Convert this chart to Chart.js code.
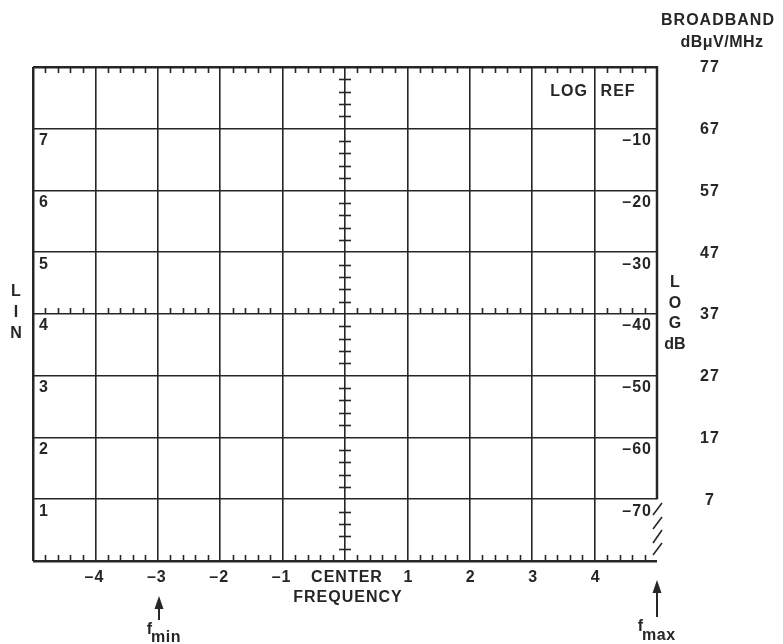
<!DOCTYPE html>
<html>
<head>
<meta charset="utf-8">
<script src="https://cdn.jsdelivr.net/npm/chart.js"></script>
<style>
  body { margin: 0; background: #fff; }
  #wrap { width: 783px; height: 644px; }
</style>
</head>
<body>
<div id="wrap"><canvas id="chart" width="783" height="644"></canvas></div>
<script>
// frequency divisions (x), grid rows (y)
const freqTicks = [-4, -3, -2, -1, 1, 2, 3, 4];
const centerLabel = ["CENTER", "FREQUENCY"];
const linLabels = [1, 2, 3, 4, 5, 6, 7];
const logLabels = [-70, -60, -50, -40, -30, -20, -10];
const broadbandLabels = [7, 17, 27, 37, 47, 57, 67, 77];
const markers = [
  { x: -3, name: "min" },
  { x: 5, name: "max" }
];

const INK = "#262626";
const FONT = "bold 16px 'Liberation Sans', Arial, sans-serif";

function text(ctx, str, x, y, align, spacing) {
  ctx.textAlign = align || "center";
  ctx.letterSpacing = (spacing || 0) + "px";
  ctx.fillText(str, x, y);
  ctx.letterSpacing = "0px";
}

const graticule = {
  id: "graticule",
  afterDraw(chart) {
    const ctx = chart.ctx;
    const xs = chart.scales.x, ys = chart.scales.y;
    const a = chart.chartArea;
    const px = v => xs.getPixelForValue(v);
    const py = v => ys.getPixelForValue(v);

    ctx.save();
    ctx.strokeStyle = INK;
    ctx.fillStyle = INK;

    // right border stops at the 1st division, hatching below
    ctx.lineWidth = 2.5;
    ctx.beginPath();
    ctx.moveTo(px(5), a.top - 1);
    ctx.lineTo(px(5), py(1));
    ctx.stroke();
    ctx.lineWidth = 1.6;
    [[503, 515], [517, 529], [530, 543], [543, 555]].forEach(([y0, y1]) => {
      ctx.beginPath();
      ctx.moveTo(px(5) + 5, y0);
      ctx.lineTo(px(5) - 4, y1);
      ctx.stroke();
    });

    // minor ticks (5 per division)
    ctx.lineWidth = 1.6;
    for (let i = -25; i <= 25; i++) {
      if (i % 5 === 0) continue;
      const x = Math.round(px(i / 5)) + 0.5;
      ctx.beginPath();
      ctx.moveTo(x, a.top); ctx.lineTo(x, a.top + 6);
      ctx.moveTo(x, a.bottom); ctx.lineTo(x, a.bottom - 6);
      ctx.moveTo(x, py(4)); ctx.lineTo(x, py(4) - 6);
      ctx.stroke();
    }
    for (let j = 0; j <= 40; j++) {
      if (j % 5 === 0) continue;
      const y = Math.round(py(j / 5)) + 0.5;
      ctx.beginPath();
      ctx.moveTo(px(0) - 6, y); ctx.lineTo(px(0) + 6, y);
      ctx.stroke();
    }

    ctx.font = FONT;
    ctx.textBaseline = "middle";

    // LIN labels (left inside), LOG labels (right inside)
    linLabels.forEach(v => text(ctx, String(v), a.left + 6, py(v) + 12, "left"));
    logLabels.forEach((v, i) => text(ctx, "\u2013" + Math.abs(v), a.right - 5, py(i + 1) + 12, "right", 1));
    text(ctx, "LOG", px(3) + 18, py(7.6), "left", 1);
    text(ctx, "REF", px(4) + 6, py(7.6), "left", 1);

    // broadband scale
    broadbandLabels.forEach((v, i) => text(ctx, String(v), 710, py(i + 1) + 1, "center", 1));
    text(ctx, "BROADBAND", 718, 21, "center", 1);
    text(ctx, "dB\u03BCV/MHz", 722, 43, "center", 0.5);

    // side captions
    ["L", "I", "N"].forEach((c, i) => text(ctx, c, 16, 292 + i * 21, "center"));
    ["L", "O", "G", "dB"].forEach((c, i) => text(ctx, c, 675, 283 + i * 20.5, "center"));

    // frequency labels
    freqTicks.forEach(v => text(ctx, (v < 0 ? "\u2013" : "") + Math.abs(v), px(v) - (v < 0 ? 1 : -1), a.bottom + 17, "center", 1));
    text(ctx, centerLabel[0], px(0) + 2, a.bottom + 17, "center", 1);
    text(ctx, centerLabel[1], px(0) + 3, a.bottom + 37, "center", 1);

    // f_min / f_max arrows
    markers.forEach(m => {
      const last = m.x === 5;
      const x = Math.round(px(m.x)) + (last ? 0 : 1);
      const top = last ? 580 : 596;
      ctx.lineWidth = 2;
      ctx.beginPath();
      ctx.moveTo(x, top + 8); ctx.lineTo(x, last ? 617 : 620);
      ctx.stroke();
      ctx.beginPath();
      ctx.moveTo(x, top); ctx.lineTo(x - 4.5, top + 13); ctx.lineTo(x + 4.5, top + 13);
      ctx.closePath(); ctx.fill();
      const subLeft = x + (last ? -15 : -8);
      text(ctx, "f", subLeft + 1, last ? 627 : 630, "right");
      text(ctx, m.name, subLeft, last ? 636 : 638, "left", 0.5);
    });
    ctx.restore();
  }
};

new Chart(document.getElementById("chart"), {
  type: "scatter",
  data: { datasets: [{ data: [], showLine: false }] },
  options: {
    responsive: false,
    animation: false,
    layout: { padding: { left: 33, top: 67, right: 126, bottom: 83 } },
    plugins: { legend: { display: false }, tooltip: { enabled: false } },
    scales: {
      x: {
        type: "linear", min: -5, max: 5,
        ticks: { stepSize: 1, display: false },
        border: { display: false },
        grid: {
          drawTicks: false,
          color: c => c.tick.value === 5 ? "rgba(0,0,0,0)" : INK,
          lineWidth: c => Math.abs(c.tick.value) === 5 ? 2.5 : 1.6
        }
      },
      y: {
        type: "linear", min: 0, max: 8,
        ticks: { stepSize: 1, display: false },
        border: { display: false },
        grid: {
          drawTicks: false,
          color: INK,
          lineWidth: c => (c.tick.value === 0 || c.tick.value === 8) ? 2.5 : 1.6
        }
      }
    }
  },
  plugins: [graticule]
});
</script>
</body>
</html>
